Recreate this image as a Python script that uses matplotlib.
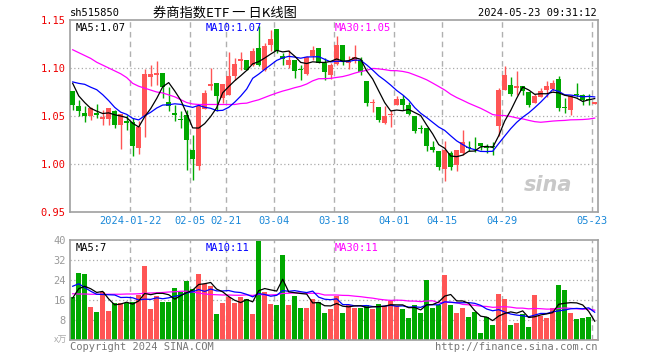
import numpy as np
import pandas as pd
import matplotlib
matplotlib.use('Agg')
import matplotlib.pyplot as plt

# daily K-line data, 2024-01-08 .. 2024-05-23 (88 trading days)
opens = [1.0764, 1.0601, 1.0528, 1.0504, 1.0528, 1.0465, 1.0469, 1.0549, 1.0403, 1.0451,
         1.0438, 1.0167, 1.0497, 1.0903, 1.0927, 1.0951, 1.0646, 1.0528, 1.0472, 1.0507,
         1.0149, 0.9976, 1.0573, 1.0809, 1.0847, 1.0688, 1.0722, 1.0913, 1.1076, 1.1087,
         1.1035, 1.1208, 1.0983, 1.1236, 1.1410, 1.1122, 1.1035, 1.1080, 1.0986, 1.0938,
         1.1122, 1.1208, 1.1052, 1.0924, 1.1042, 1.1243, 1.1052, 1.1076, 1.1087, 1.0868,
         1.0632, 1.0597, 1.0431, 1.0510, 1.0611, 1.0681, 1.0618, 1.0497, 1.0375, 1.0375,
         1.0177, 1.0139, 0.9951, 1.0115, 0.9986, 1.0115, 1.0177, 1.0170, 1.0219, 1.0177,
         1.0184, 1.0392, 1.0774, 1.0826, 1.0792, 1.0809, 1.0750, 1.0635, 1.0694, 1.0774,
         1.0785, 1.0889, 1.0590, 1.0566, 1.0726, 1.0722, 1.0674, 1.0625]
highs = [1.0764, 1.0663, 1.0601, 1.0590, 1.0625, 1.0566, 1.0583, 1.0566, 1.0521, 1.0507,
         1.0479, 1.0444, 1.0990, 1.1035, 1.1069, 1.0951, 1.0799, 1.0618, 1.0549, 1.0566,
         1.0302, 1.0620, 1.0774, 1.1000, 1.0847, 1.0833, 1.1163, 1.1104, 1.1167, 1.1087,
         1.1208, 1.1434, 1.1260, 1.1399, 1.1410, 1.1156, 1.1191, 1.1080, 1.1035, 1.1122,
         1.1226, 1.1208, 1.1104, 1.1052, 1.1330, 1.1243, 1.1122, 1.1243, 1.1111, 1.0868,
         1.0674, 1.0597, 1.0604, 1.0563, 1.0705, 1.0722, 1.0646, 1.0497, 1.0410, 1.0375,
         1.0236, 1.0139, 1.0243, 1.0139, 1.0149, 1.0358, 1.0243, 1.0278, 1.0219, 1.0208,
         1.0229, 1.0792, 1.1017, 1.0903, 1.0965, 1.0809, 1.0750, 1.0729, 1.0792, 1.0861,
         1.0878, 1.0913, 1.0688, 1.0722, 1.0844, 1.0729, 1.0729, 1.0646]
lows = [1.0566, 1.0500, 1.0438, 1.0455, 1.0479, 1.0410, 1.0410, 1.0375, 1.0156, 1.0358,
        1.0080, 1.0104, 1.0281, 1.0809, 1.0826, 1.0688, 1.0549, 1.0451, 1.0375, 0.9941,
        0.9830, 0.9934, 1.0573, 1.0774, 1.0549, 1.0635, 1.0722, 1.0878, 1.0983, 1.0983,
        1.1017, 1.1017, 1.0965, 1.1174, 1.1156, 1.1035, 1.1000, 1.0896, 1.0878, 1.0931,
        1.1087, 1.1052, 1.0878, 1.0882, 1.1035, 1.1035, 1.0993, 1.1052, 1.0924, 1.0601,
        1.0542, 1.0438, 1.0420, 1.0390, 1.0611, 1.0566, 1.0514, 1.0323, 1.0323, 1.0132,
        1.0125, 0.9941, 0.9819, 0.9941, 0.9924, 1.0097, 1.0132, 1.0125, 1.0149, 1.0115,
        1.0090, 1.0288, 1.0774, 1.0705, 1.0722, 1.0722, 1.0590, 1.0635, 1.0694, 1.0694,
        1.0764, 1.0549, 1.0531, 1.0507, 1.0694, 1.0618, 1.0611, 1.0625]
closes = [1.0611, 1.0549, 1.0504, 1.0583, 1.0507, 1.0486, 1.0583, 1.0403, 1.0521, 1.0424,
          1.0191, 1.0389, 1.0941, 1.0941, 1.0951, 1.0799, 1.0608, 1.0507, 1.0462, 1.0247,
          1.0056, 1.0600, 1.0740, 1.0833, 1.0705, 1.0833, 1.0920, 1.1045, 1.1094, 1.0983,
          1.1174, 1.1035, 1.1233, 1.1302, 1.1174, 1.1094, 1.1080, 1.0965, 1.0979, 1.1115,
          1.1184, 1.1052, 1.0958, 1.1035, 1.1243, 1.1069, 1.1076, 1.1111, 1.0958, 1.0635,
          1.0646, 1.0458, 1.0500, 1.0524, 1.0681, 1.0611, 1.0524, 1.0340, 1.0368, 1.0184,
          1.0149, 0.9969, 1.0149, 0.9965, 1.0149, 1.0229, 1.0170, 1.0163, 1.0184, 1.0170,
          1.0177, 1.0774, 1.0931, 1.0733, 1.0809, 1.0764, 1.0618, 1.0705, 1.0764, 1.0809,
          1.0844, 1.0583, 1.0580, 1.0705, 1.0719, 1.0670, 1.0667, 1.0646]
volumes = [17.2, 26.8, 26.6, 13.2, 11.3, 19.3, 11.7, 14.8, 14.8, 15.0,
           15.4, 18.1, 29.8, 12.3, 17.7, 15.4, 15.4, 20.9, 19.3, 23.8,
           20.4, 26.6, 22.5, 21.7, 10.5, 15.0, 17.2, 15.0, 17.2, 16.4,
           10.5, 39.5, 19.3, 14.5, 14.1, 34.2, 14.1, 17.7, 12.9, 12.9,
           16.4, 15.3, 11.0, 12.6, 17.7, 11.0, 14.0, 12.9, 12.9, 14.0,
           12.5, 14.5, 13.7, 15.8, 13.7, 12.5, 8.9, 14.1, 11.0, 23.9,
           13.0, 14.0, 25.9, 14.2, 11.0, 13.0, 9.4, 11.3, 2.9, 9.2,
           6.0, 18.5, 16.5, 6.0, 6.8, 10.4, 5.3, 18.0, 9.6, 8.9,
           12.9, 22.0, 20.1, 10.8, 8.4, 8.8, 9.2, 0.4]

# moving average values before enough history exists
ma5_head = [1.084, 1.071, 1.064, 1.058]
ma10_head = [1.0855, 1.0840, 1.0830, 1.0800, 1.0774, 1.0722, 1.0660, 1.0590, 1.0540]
ma30_head = [1.119, 1.116, 1.113, 1.110, 1.106, 1.103, 1.100, 1.097, 1.094, 1.090,
             1.084, 1.081, 1.079, 1.077, 1.075, 1.074, 1.072, 1.070, 1.067, 1.064,
             1.0625, 1.062, 1.062, 1.062, 1.062, 1.062, 1.062, 1.062, 1.063]
vma5_head = [16.8, 20.5, 21.5, 20.5]
vma10_head = [21.5, 22.5, 21.0, 19.5, 18.3, 18.2, 18.1, 18.0, 17.0]
vma30_head = [18.5, 18.4, 18.4, 18.3, 18.3, 18.3, 18.3, 18.3, 18.3, 18.4,
              18.4, 18.5, 18.7, 18.8, 18.9, 19.0, 19.2, 19.3, 19.5, 19.5,
              19.2, 18.8, 18.4, 18.2, 18.1, 18.0, 18.0, 17.9, 17.9]

tick_idx = [10, 20, 26, 34, 44, 54, 62, 72, 87]
tick_labels = ['2024-01-22', '02-05', '02-21', '03-04', '03-18', '04-01', '04-15', '04-29', '05-23']


def with_head(values, n, head):
    s = pd.Series(values).rolling(n).mean()
    s.iloc[:len(head)] = head
    return s.values


ma5 = with_head(closes, 5, ma5_head)
ma10 = with_head(closes, 10, ma10_head)
ma30 = with_head(closes, 30, ma30_head)
vma5 = with_head(volumes, 5, vma5_head)
vma10 = with_head(volumes, 10, vma10_head)
vma30 = with_head(volumes, 30, vma30_head)

RED = '#ff5555'
GREEN = '#00a800'
MONO = 'DejaVu Sans Mono'
FRAME = '#a0a0a0'

o = np.array(opens)
c = np.array(closes)
x = np.arange(len(o))
up = c >= o
cols = np.where(up, RED, GREEN)

fig = plt.figure(figsize=(6.6, 3.6), dpi=100)
ax = fig.add_axes([70 / 660, 1 - 212 / 360, 528 / 660, 192 / 360])
axv = fig.add_axes([70 / 660, 1 - 340 / 360, 528 / 660, 100 / 360])

xlim = (-0.45, len(o) - 0.45)

# price panel
for lv in [1.00, 1.05, 1.10]:
    ax.axhline(lv, color='#aaaaaa', lw=0.9, ls=(0, (1, 2)), zorder=0)
for a in (ax, axv):
    for t in tick_idx:
        a.axvline(t - 0.45, color='#b0b0b0', lw=1, ls=(0, (4, 3)), zorder=0)

ax.vlines(x, lows, highs, colors=cols, lw=1, zorder=2)
body_h = np.maximum(np.abs(c - o), 0.0008)
ax.bar(x, body_h, bottom=np.minimum(o, c), width=0.8, color=cols, lw=0, zorder=3)
ax.plot(x, ma30, color='#ff00ff', lw=0.9, zorder=4)
ax.plot(x, ma10, color='#0000ff', lw=0.9, zorder=4)
ax.plot(x, ma5, color='black', lw=0.9, zorder=4)

ax.set_xlim(*xlim)
ax.set_ylim(0.95, 1.15)
ax.set_yticks([0.95, 1.00, 1.05, 1.10, 1.15])
ax.set_yticklabels(['%.2f' % v for v in [0.95, 1.00, 1.05, 1.10, 1.15]],
                   color='#ee0000', fontfamily=MONO, fontsize=7.5)
ax.set_xticks([t - 0.45 for t in tick_idx])
ax.set_xticklabels(tick_labels, color='#1a88d8', fontfamily=MONO, fontsize=7.5)
ax.tick_params(length=0, pad=3)

ax.text(0.01, 0.985, 'MA5:%.2f' % ma5[-1], transform=ax.transAxes, va='top',
        fontfamily=MONO, fontsize=7.5, color='black')
ax.text(0.256, 0.985, 'MA10:%.2f' % ma10[-1], transform=ax.transAxes, va='top',
        fontfamily=MONO, fontsize=7.5, color='#0000ff')
ax.text(0.502, 0.985, 'MA30:%.2f' % ma30[-1], transform=ax.transAxes, va='top',
        fontfamily=MONO, fontsize=7.5, color='#ff00ff')
ax.text(0.905, 0.14, 'sina', transform=ax.transAxes, ha='center', va='center',
        fontsize=15, fontweight='bold', fontstyle='italic', color='#c8c8c8', zorder=1)

# volume panel
for lv in [8, 16, 24, 32]:
    axv.axhline(lv, color='#aaaaaa', lw=0.9, ls=(0, (1, 2)), zorder=0)
axv.bar(x, volumes, width=0.8, color=cols, lw=0, zorder=2)
axv.plot(x, vma30, color='#ff00ff', lw=0.9, zorder=3)
axv.plot(x, vma10, color='#0000ff', lw=0.9, zorder=3)
axv.plot(x, vma5, color='black', lw=0.9, zorder=3)
axv.set_xlim(*xlim)
axv.set_ylim(0, 40)
axv.set_yticks([8, 16, 24, 32, 40])
axv.set_yticklabels(['8', '16', '24', '32', '40'], color='#999999',
                    fontfamily=MONO, fontsize=7.5)
axv.set_xticks([])
axv.tick_params(length=0, pad=3)

axv.text(0.01, 0.97, 'MA5:%d' % int(vma5[-1]), transform=axv.transAxes, va='top',
         fontfamily=MONO, fontsize=7.5, color='black')
axv.text(0.256, 0.97, 'MA10:%d' % int(vma10[-1]), transform=axv.transAxes, va='top',
         fontfamily=MONO, fontsize=7.5, color='#0000ff')
axv.text(0.502, 0.97, 'MA30:%d' % int(vma30[-1]), transform=axv.transAxes, va='top',
         fontfamily=MONO, fontsize=7.5, color='#ff00ff')

for a in (ax, axv):
    for sp in a.spines.values():
        sp.set_color(FRAME)
        sp.set_linewidth(1.2)

# header and footer
fig.text(70 / 660, 1 - 13 / 360, 'sh515850', fontfamily=MONO, fontsize=7.5,
         va='center', ha='left')
fig.text(225 / 660, 1 - 13 / 360, '券商指数ETF 一 日K线图',
         family=['Noto Sans CJK SC', 'DejaVu Sans'], fontsize=9.5, va='center', ha='center')
fig.text(597 / 660, 1 - 13 / 360, '2024-05-23 09:31:12', fontfamily=MONO, fontsize=7.5,
         va='center', ha='right')
fig.text(67 / 660, 1 - 340 / 360, 'x万', family=['Noto Sans CJK SC', 'DejaVu Sans'],
         fontsize=6.5, color='#aaaaaa', va='center', ha='right')
fig.text(70 / 660, 1 - 347 / 360, 'Copyright 2024 SINA.COM', fontfamily=MONO, fontsize=7.5,
         color='#777777', va='center', ha='left')
fig.text(597 / 660, 1 - 347 / 360, 'http://finance.sina.com.cn', fontfamily=MONO,
         fontsize=7.5, color='#777777', va='center', ha='right')

fig.savefig('out.png', dpi=100, facecolor='white')
